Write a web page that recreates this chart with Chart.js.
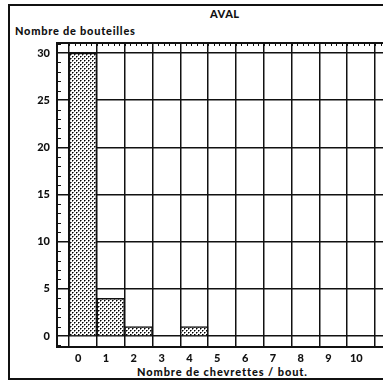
<!DOCTYPE html>
<html>
<head>
<meta charset="utf-8">
<script src="https://cdn.jsdelivr.net/npm/chart.js@4.4.1/dist/chart.umd.min.js"></script>
<style>
  html, body { margin: 0; padding: 0; width: 383px; height: 383px; overflow: hidden; background: #fff; }
  #wrap { position: relative; width: 383px; height: 383px; overflow: hidden; }
  #cadre { position: absolute; left: 8px; top: 4px; width: 420px; height: 372px;
           border-left: 2px solid #111; border-top: 2px solid #111; border-bottom: 2px solid #111; }
  .txt { position: absolute; font-family: Lato, 'DejaVu Sans', sans-serif; font-weight: 900;
         color: #111; white-space: nowrap; font-size: 11px; line-height: 12px; }
  #graph { position: absolute; left: 0; top: 0; }
</style>
</head>
<body>
<div id="wrap">
  <div id="cadre"></div>
  <div class="txt" style="left:210px;top:8px;letter-spacing:0.5px;">AVAL</div>
  <div class="txt" style="left:15px;top:25px;letter-spacing:0.75px;">Nombre de bouteilles</div>
  <div class="txt" style="left:137px;top:366px;letter-spacing:0.9px;">Nombre de chevrettes / bout.</div>
  <canvas id="graph" width="420" height="383"></canvas>
</div>
<script>
// ═══════════ DONNÉES ═══════════
const categories = ['0', '1', '2', '3', '4', '5', '6', '7', '8', '9', '10'];
const bouteilles = [30, 4, 1, 0, 1, 0, 0, 0, 0, 0, 0];
const yTicks = [0, 5, 10, 15, 20, 25, 30];

const NOIR = '#111';
const POLICE = { family: "Lato, 'DejaVu Sans', sans-serif", size: 11, weight: '900' };

// motif pointillé des barres (points en quinconce)
function motif() {
  const c = document.createElement('canvas');
  c.width = 4; c.height = 4;
  const g = c.getContext('2d');
  g.fillStyle = '#fff';
  g.fillRect(0, 0, 4, 4);
  g.fillStyle = '#777';
  g.fillRect(1, 0, 1, 1);
  g.fillRect(0, 1, 1, 1);
  g.fillRect(3, 2, 1, 1);
  g.fillRect(2, 3, 1, 1);
  g.fillStyle = '#000';
  g.fillRect(0, 0, 1, 1);
  g.fillRect(2, 2, 1, 1);
  return g.createPattern(c, 'repeat');
}

// petites graduations (bord haut et axe y)
const graduations = {
  id: 'graduations',
  afterDraw(chart) {
    const { ctx, chartArea, scales } = chart;
    ctx.save();
    ctx.strokeStyle = NOIR;
    ctx.lineWidth = 2;
    ctx.beginPath();
    ctx.moveTo(chartArea.left, chartArea.top);
    ctx.lineTo(chartArea.right, chartArea.top);
    ctx.stroke();
    ctx.lineWidth = 1;
    ctx.beginPath();
    for (let v = 0; v <= 12; v += 0.2) {
      const px = Math.round(scales.x.getPixelForValue(v)) + 0.5;
      ctx.moveTo(px, chartArea.top);
      ctx.lineTo(px, chartArea.top + 3);
    }
    for (let v = -1; v <= 31; v++) {
      if (v % 5 === 0) continue;
      const py = Math.round(scales.y.getPixelForValue(v)) + 0.5;
      ctx.moveTo(chartArea.left, py);
      ctx.lineTo(chartArea.left + 4, py);
    }
    ctx.stroke();
    ctx.restore();
  }
};

new Chart(document.getElementById('graph'), {
  type: 'bar',
  data: {
    datasets: [{
      data: categories.map((c, i) => ({ x: i + 0.5, y: bouteilles[i] })),
      backgroundColor: motif(),
      borderColor: NOIR,
      borderWidth: 1.5,
      borderSkipped: 'bottom',
      barPercentage: 1,
      categoryPercentage: 1,
      xAxisID: 'x',
      yAxisID: 'y'
    }]
  },
  options: {
    responsive: false,
    animation: false,
    layout: { padding: { left: 0, top: 43, right: 0, bottom: 0 } },
    plugins: { legend: { display: false }, tooltip: { enabled: false }, title: { display: false } },
    scales: {
      x: {
        type: 'linear', position: 'bottom', offset: false,
        min: -0.431, max: 12.617,
        afterBuildTicks: s => { s.ticks = Array.from({ length: 13 }, (_, i) => ({ value: i })); },
        afterFit: s => { s.height = 0; },
        ticks: { display: false },
        grid: { color: NOIR, lineWidth: 1.5, drawTicks: false, offset: false },
        border: { display: true, color: NOIR, width: 2 }
      },
      xl: {
        type: 'linear', position: 'bottom', offset: false,
        min: -0.431, max: 12.617,
        afterBuildTicks: s => { s.ticks = categories.map((c, i) => ({ value: i + 0.33 })); },
        afterFit: s => { s.height = 36; },
        ticks: {
          color: NOIR, font: POLICE, padding: 5, maxRotation: 0, autoSkip: false,
          callback: (v, i) => categories[i]
        },
        grid: { display: false, drawTicks: false, offset: false },
        border: { display: false }
      },
      y: {
        position: 'left',
        min: -1.17, max: 31.06,
        afterBuildTicks: s => { s.ticks = yTicks.map(v => ({ value: v })); },
        afterFit: s => { s.width = 57; },
        ticks: { color: NOIR, font: POLICE, padding: 7 },
        grid: { color: NOIR, lineWidth: 1.5, drawTicks: false },
        border: { display: true, color: NOIR, width: 2 }
      }
    }
  },
  plugins: [graduations]
});
</script>
</body>
</html>
